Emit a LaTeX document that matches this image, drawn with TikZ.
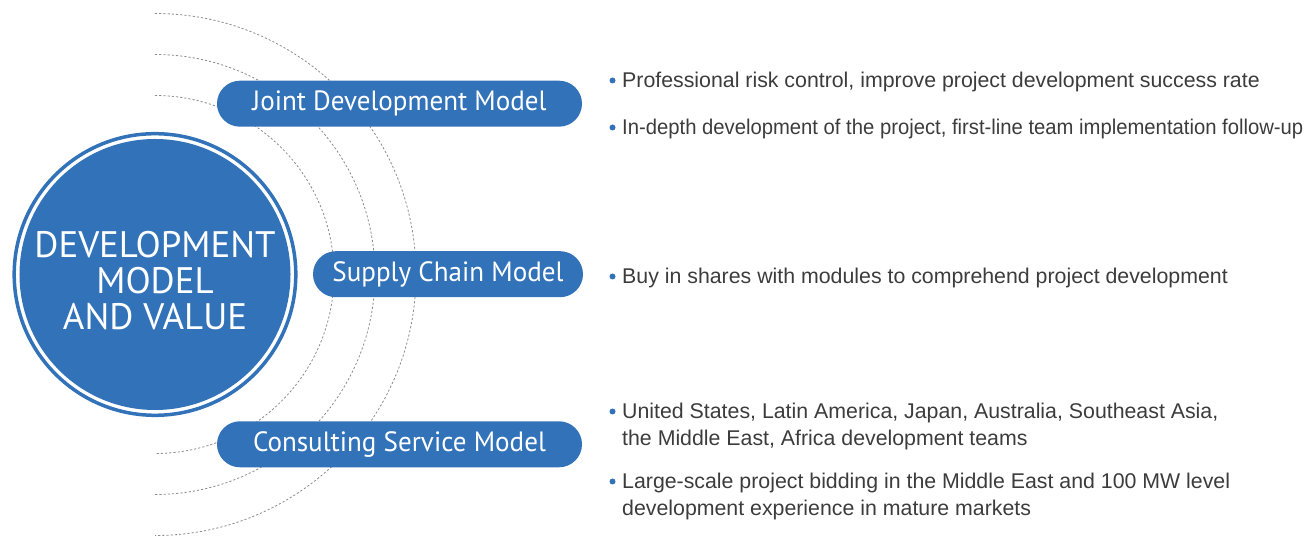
\documentclass[tikz,border=0pt]{standalone}
\usepackage{graphicx}
\usepackage{fontspec}
\setmainfont{Liberation Sans}
\newfontfamily\pillfam[FakeStretch=0.97]{PT Sans}
\newfontfamily\titlefam{PT Sans}
\newfontfamily\descfam{Liberation Sans}
\definecolor{myblue}{RGB}{50,114,185}
\definecolor{textgray}{RGB}{60,60,60}
\definecolor{dashgray}{RGB}{140,140,140}
\newcommand\pillfont{\pillfam\fontsize{28}{30}\selectfont}
\newcommand\titlefont{\titlefam\fontsize{37}{36}\selectfont}
\newcommand\descfont{\descfam\fontsize{21.4}{27}\selectfont}
\tikzset{
  pill/.style={fill=myblue, rounded corners=23bp, minimum height=46bp, inner sep=0pt, text=white, font=\pillfont},
  arcline/.style={draw=dashgray, dash pattern=on 2.2bp off 2bp, line width=0.8bp},
  desc/.style={anchor=base west, inner sep=0pt, text=textgray, font=\descfont},
  bulletdot/.style={circle, fill=myblue, inner sep=0pt, minimum size=6bp}
}
\begin{document}
\begin{tikzpicture}[x=1bp,y=1bp]
\useasboundingbox (0,0) rectangle (1308,539);
% centre
\coordinate (c) at (155,264.5);
% dashed arcs
\draw[arcline] (155,443.5) arc[start angle=90, end angle=-90, radius=179bp];
\draw[arcline] (155,484.5) arc[start angle=90, end angle=-90, radius=220bp];
\draw[arcline] (155,525.5) arc[start angle=90, end angle=-90, radius=261bp];
% central circle
\node[circle, fill=myblue, minimum size=271bp, inner sep=0pt] (core) at (c) {};
\draw[myblue, line width=3.5bp] (core.center) circle (140.8bp);
\node[align=center, text=white, font=\titlefont, inner sep=0pt] (title) at (155,258.4) {DEVELOPMENT\\MODEL\\AND VALUE};
% pills
\node[pill, minimum width=365bp] (joint) at (399.5,435.3) {Joint Development Model};
\node[pill, minimum width=270bp] (supply) at (448,264.8) {Supply Chain Model};
\node[pill, minimum width=365bp] (consult) at (399.5,94.7) {Consulting Service Model};
% descriptions
\node[desc] (j1) at (622,451.5) {Professional risk control, improve project development success rate};
\node[desc] (j2) at (622,404.5) {\scalebox{0.95}[1]{In-depth development of the project, first-line team implementation follow-up}};
\node[desc] (s1) at (622,255.5) {Buy in shares with modules to comprehend project development};
\node[desc] (c1) at (622,120.5) {United States, Latin America, Japan, Australia, Southeast Asia,};
\node[desc] (c1b) at (622,93.5) {the Middle East, Africa development teams};
\node[desc] (c2) at (622,50.5) {Large-scale project bidding in the Middle East and 100 MW level};
\node[desc] (c2b) at (622,23.5) {development experience in mature markets};
% bullets
\node[bulletdot] (bj1) at (612.5,458.5) {};
\node[bulletdot] (bj2) at (612.5,411.5) {};
\node[bulletdot] (bs1) at (612.5,262.5) {};
\node[bulletdot] (bc1) at (612.5,127.5) {};
\node[bulletdot] (bc2) at (612.5,57.5) {};
\end{tikzpicture}
\end{document}
